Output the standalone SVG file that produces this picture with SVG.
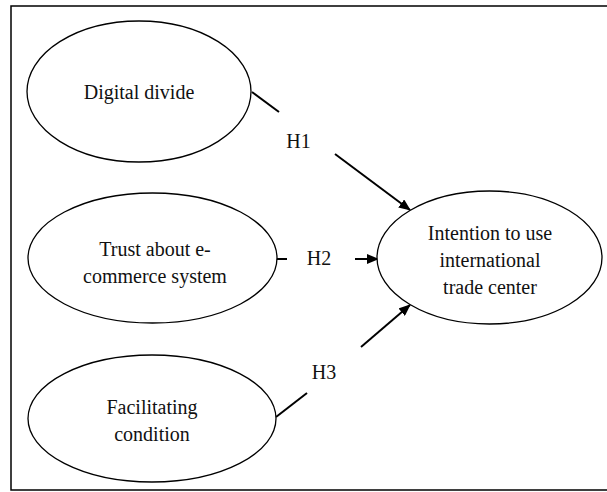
<svg xmlns="http://www.w3.org/2000/svg" width="607" height="492" viewBox="0 0 607 492">
  <style>
    .node ellipse { fill: #ffffff; stroke: #000000; stroke-width: 1.3; }
    .lbl { font-family: "Liberation Serif", "Times New Roman", serif; font-size: 20px; fill: #111111; text-anchor: middle; }
    .conn { stroke: #000000; stroke-width: 2; fill: none; }
    .frame { stroke: #000000; stroke-width: 1.5; fill: none; }
  </style>
  <defs>
    <marker id="arrow" markerUnits="userSpaceOnUse" markerWidth="12" markerHeight="10" refX="11" refY="5" orient="auto">
      <path d="M0,0 L12,5 L0,10 Z" fill="#000000"/>
    </marker>
  </defs>
  <rect width="607" height="492" fill="#ffffff"/>
  <path class="frame" d="M610,6 H11 V490 H610"/>

  <g id="connectors">
    <line class="conn" x1="252" y1="92" x2="279" y2="112"/>
    <line class="conn" x1="335" y1="154" x2="410" y2="210" marker-end="url(#arrow)"/>
    <line class="conn" x1="276" y1="259" x2="287" y2="259"/>
    <line class="conn" x1="355" y1="259" x2="378" y2="259" marker-end="url(#arrow)"/>
    <line class="conn" x1="276" y1="417" x2="307" y2="393"/>
    <line class="conn" x1="361" y1="347" x2="410" y2="305" marker-end="url(#arrow)"/>
    <text class="lbl" x="298.5" y="148">H1</text>
    <text class="lbl" x="319" y="265">H2</text>
    <text class="lbl" x="324" y="379">H3</text>
  </g>

  <g id="digital-divide" class="node">
    <ellipse cx="139" cy="91.5" rx="112" ry="70.5"/>
    <text class="lbl" x="139" y="99">Digital divide</text>
  </g>
  <g id="trust" class="node">
    <ellipse cx="152.5" cy="258" rx="124.5" ry="65"/>
    <text class="lbl" x="155" y="256">Trust about e-</text>
    <text class="lbl" x="155" y="283">commerce system</text>
  </g>
  <g id="facilitating" class="node">
    <ellipse cx="152" cy="418.5" rx="124" ry="63.5"/>
    <text class="lbl" x="152" y="414">Facilitating</text>
    <text class="lbl" x="152" y="441">condition</text>
  </g>
  <g id="intention" class="node">
    <ellipse cx="489.5" cy="257.5" rx="112.5" ry="66.5"/>
    <text class="lbl" x="490" y="240">Intention to use</text>
    <text class="lbl" x="490" y="267">international</text>
    <text class="lbl" x="490" y="294">trade center</text>
  </g>
</svg>
